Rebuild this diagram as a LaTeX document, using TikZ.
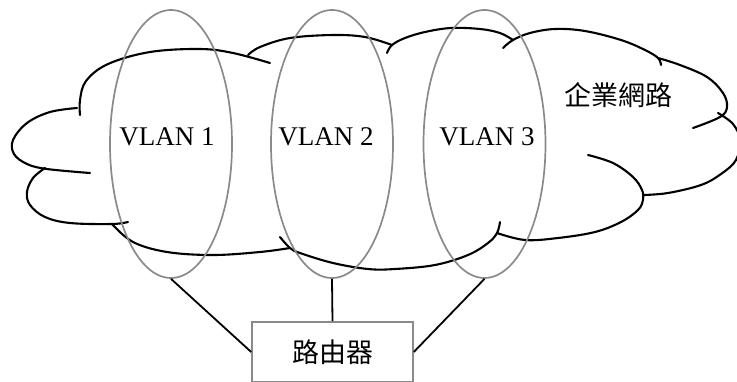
\documentclass[tikz,border=0pt]{standalone}
\usepackage{fontspec}
\setmainfont{Liberation Serif}
\newfontfamily\cjk{Noto Sans CJK TC}
\usetikzlibrary{shapes.geometric}
\definecolor{rimgray}{HTML}{8A8A8A}
\tikzset{
  lobe/.style={draw=black, line width=2.1pt, line cap=round},
  vlanring/.style={ellipse, draw=rimgray, line width=1.7pt, minimum width=122pt, minimum height=268pt, inner sep=0pt},
  vlanlabel/.style={font=\fontsize{27}{29}\selectfont, inner sep=0pt},
  cjklabel/.style={font=\cjk\fontsize{27}{29}\selectfont, inner sep=0pt},
  routerbox/.style={draw=rimgray, line width=1.6pt, minimum width=161pt, minimum height=60pt, inner sep=0pt, font=\cjk\fontsize{27}{29}\selectfont},
  link/.style={draw=black, line width=1.8pt}
}
\begin{document}
\begin{tikzpicture}[x=1pt, y=-1pt]
\useasboundingbox (0,0) rectangle (737,381);
\clip (0,0) rectangle (737,381);
\fill[white] (0,0) rectangle (737,381);

% cloud outline, one arc per lobe
\draw[lobe] plot[smooth, tension=0.6] coordinates {(80,115) (80,100) (86,81) (108,64) (150,52) (200,49) (233,53) (270,63)};
\draw[lobe] plot[smooth, tension=0.6] coordinates {(248,55) (260,47) (290,38) (333,35) (365,37) (392,45)};
\draw[lobe] plot[smooth, tension=0.6] coordinates {(387,53) (392,45) (405,38) (425,32) (451,28) (480,29) (500,33) (513,40)};
\draw[lobe] plot[smooth, tension=0.6] coordinates {(503,48) (513,40) (530,33) (555,29) (585,31) (621,40) (645,50) (658,58) (661,65)};
\draw[lobe] plot[smooth, tension=0.6] coordinates {(658,58) (680,65) (707,77) (723,93) (727,107) (720,117) (693,128)};
\draw[lobe] plot[smooth, tension=0.6] coordinates {(718,113) (733,124) (740,140) (736,160) (721,174) (701,185) (668,193) (643,195)};
\draw[lobe] plot[smooth, tension=0.6] coordinates {(588,155) (613,163) (633,177) (642,190) (643,200) (638,210) (621,222) (595,232) (558,238) (525,240) (497,233)};
\draw[lobe] plot[smooth, tension=0.6] coordinates {(500,222) (497,233) (488,243) (468,255) (435,265) (395,269) (368,269) (333,263) (300,253) (290,248) (280,237)};
\draw[lobe] plot[smooth, tension=0.6] coordinates {(290,248) (260,252) (213,255) (167,252) (133,242) (112,224)};
\draw[lobe] plot[smooth, tension=0.6] coordinates {(45,168) (33,178) (27,192) (30,205) (45,217) (70,223) (112,224) (128,222)};
\draw[lobe] plot[smooth, tension=0.6] coordinates {(77,108) (50,112) (27,123) (13,140) (14,154) (27,164) (47,169) (90,173)};

% VLAN rings
\node[vlanring] (e1) at (171,144) {};
\node[vlanring] (e2) at (332,144) {};
\node[vlanring] (e3) at (484.5,144) {};

% labels
\node[vlanlabel] (l1) at (167,137) {VLAN 1};
\node[vlanlabel] (l2) at (326,137) {VLAN 2};
\node[vlanlabel] (l3) at (487,137) {VLAN 3};
\node[cjklabel] (net) at (618,95) {企業網路};

% router and its links
\node[routerbox] (r) at (332.5,352) {路由器};
\draw[link] (e1.south) -- (r.west);
\draw[link] (e2.south) -- (r.north);
\draw[link] (e3.south) -- (r.east);
\end{tikzpicture}
\end{document}
